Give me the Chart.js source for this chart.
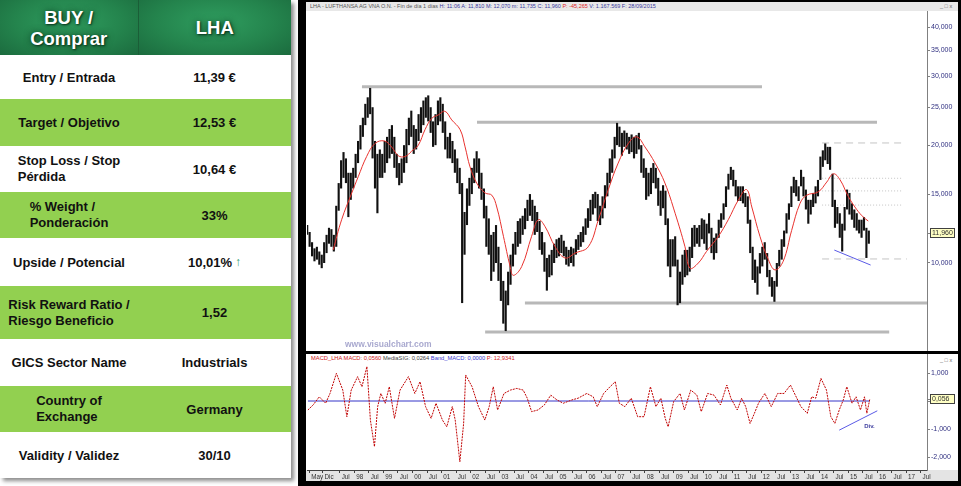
<!DOCTYPE html>
<html>
<head>
<meta charset="utf-8">
<script src="https://cdn.jsdelivr.net/npm/chart.js@4.4.1/dist/chart.umd.min.js"></script>
<style>
  body { margin:0; width:961px; height:486px; position:relative; overflow:hidden; background:#fff;
         font-family:"Liberation Sans", Arial, sans-serif; }
  #tbl { position:absolute; left:0; top:0; width:291px; box-shadow:3px 3px 4px rgba(0,0,0,.45); }
  .row { display:flex; font-weight:bold; font-size:13px; color:#111; background:#fff; }
  .row > div { display:flex; align-items:center; justify-content:center; text-align:center; }
  .k { width:138px; }
  .v { width:153px; }
  .k span { text-align:left; line-height:16px; }
  .g { background:#92d050; }
  .hd { height:55px; color:#fff; font-size:18.5px; line-height:21px;
        text-shadow:1px 1px 2px #08331b, 0 0 7px rgba(5,45,22,.85); }
  .hd > div { background:radial-gradient(ellipse at 50% 40%, #2f9d5f 0%, #24844d 55%, #1b6b3e 100%); }
  .hd .k { border-right:1px solid #1a5e37; }
  .up { color:#2e9b6e; font-weight:normal; font-size:12px; margin-left:3px; }
  .blk { position:absolute; background:#000; }
  .pane { position:absolute; background:#fff; }
  .tiny { position:absolute; white-space:nowrap; transform-origin:0 0; transform:scale(.5); }
  canvas { position:absolute; }
</style>
</head>
<body>
<div id="tbl">
  <div class="row hd"><div class="k">BUY /<br>Comprar</div><div class="v">LHA</div></div>
  <div class="row" style="height:44px"><div class="k">Entry / Entrada</div><div class="v">11,39 €</div></div>
  <div class="row g" style="height:47px"><div class="k">Target / Objetivo</div><div class="v">12,53 €</div></div>
  <div class="row" style="height:46px"><div class="k"><span>Stop Loss / Stop<br>Pérdida</span></div><div class="v">10,64 €</div></div>
  <div class="row g" style="height:46px"><div class="k"><span>% Weight /<br>Ponderación</span></div><div class="v">33%</div></div>
  <div class="row" style="height:48px"><div class="k">Upside / Potencial</div><div class="v">10,01%<span class="up">↑</span></div></div>
  <div class="row g" style="height:53px"><div class="k"><span>Risk Reward Ratio /<br>Riesgo Beneficio</span></div><div class="v">1,52</div></div>
  <div class="row" style="height:47px"><div class="k">GICS Sector Name</div><div class="v">Industrials</div></div>
  <div class="row g" style="height:46px"><div class="k"><span>Country of<br>Exchange</span></div><div class="v">Germany</div></div>
  <div class="row" style="height:46px"><div class="k">Validity / Validez</div><div class="v">30/10</div></div>
</div>

<div class="blk" style="left:298px;top:0;width:663px;height:486px"></div>
<div class="pane" style="left:306px;top:2px;width:652px;height:349px"></div>
<div class="pane" style="left:306px;top:354px;width:652px;height:127px"></div>
<div class="pane" style="left:306px;top:2px;width:652px;height:9px;background:#e8e8e8"></div>
<div class="tiny" style="left:310px;top:3px;font-size:11px;color:#555">LHA - LUFTHANSA AG VNA O.N. - Fin de día 1 días <span style="color:#3a3aa0">H: 11:06 A: 11,810 M: 12,070 m: 11,735 C: 11,960</span> <span style="color:#e02020">P: -45,265</span> <span style="color:#3a3aa0">V: 1.167.569 F: 28/09/2015</span></div>
<div class="tiny" style="left:940px;top:3px;font-size:11px;color:#666">_ □ x</div>
<div class="tiny" style="left:311px;top:355px;font-size:11.5px;color:#d02020">MACD_LHA MACD: 0,0560 <span style="color:#444">MediaSIG: 0,0264</span> <span style="color:#3a3ad0">Band_MACD: 0,0000</span> P: 12,9341</div>
<div class="tiny" style="left:940px;top:357px;font-size:11px;color:#666">_ □ x</div>

<canvas id="cp" width="652" height="340" style="left:306px;top:11px"></canvas>
<canvas id="cm" width="652" height="127" style="left:306px;top:354px"></canvas>

<script>
// monthly low / high, May 1996 .. Sep 2015
const lows = [
  11.8,11.0,10.4,10.1,10.2,9.9,9.7,10.0,
  10.6,11.2,11.0,10.7,11.0,13.6,15.5,16.5,16.0,13.1,14.5,15.5,
  16.5,18.0,19.5,21.0,22.5,23.5,24.0,18.5,15.5,13.4,16.5,16.5,
  17.0,18.0,18.5,19.0,17.5,16.5,15.8,16.0,17.0,18.0,20.0,21.0,
  19.0,19.5,20.5,21.5,22.5,23.5,23.0,21.5,19.8,20.0,22.5,23.0,
  21.5,19.5,18.5,18.5,18.0,17.0,16.0,15.0,7.9,10.5,12.5,14.0,
  15.0,16.0,17.0,15.5,14.5,13.0,11.0,10.5,9.0,9.5,10.0,9.0,
  8.0,7.0,6.7,7.8,8.8,9.8,10.5,11.0,11.2,11.8,12.2,12.8,
  13.2,12.8,11.8,12.0,10.8,10.5,9.5,8.5,9.2,9.3,10.0,10.3,
  10.4,10.6,10.4,9.9,9.8,10.0,9.8,10.5,10.8,11.0,11.3,11.8,
  12.3,12.8,13.3,13.8,12.8,12.5,13.0,13.8,14.8,16.0,17.0,18.5,
  20.0,19.8,18.8,19.8,19.5,19.0,19.2,18.5,19.0,19.5,17.0,16.5,
  14.5,14.8,15.0,16.0,15.5,14.0,13.2,13.8,12.5,9.8,9.2,9.8,
  9.8,7.8,7.9,8.8,9.2,9.3,9.5,10.3,11.0,11.2,11.0,11.5,
  11.2,10.8,11.9,10.6,10.2,10.6,11.6,12.3,12.9,13.9,15.4,16.3,
  15.7,14.8,14.4,14.4,14.2,13.9,12.6,10.6,9.05,8.9,8.3,9.4,
  9.8,10.2,9.2,8.7,8.2,7.96,8.7,9.8,10.2,11.0,11.9,12.9,
  13.9,15.1,14.8,14.4,15.7,14.8,13.7,12.6,13.3,13.9,14.2,14.8,
  16.3,17.6,18.3,17.9,17.3,13.9,12.3,12.6,11.6,10.7,12.1,13.7,
  13.3,12.9,12.3,12.1,11.9,11.6,12.1,10.3,11.2
];
const highs = [
  12.5,12.0,11.3,10.9,11.0,10.7,10.5,11.3,
  11.8,12.3,12.2,11.8,14.0,16.0,18.3,19.2,18.5,17.0,17.0,17.5,
  19.0,20.5,22.5,23.5,25.5,26.5,28.0,25.0,20.5,19.0,19.5,19.0,
  20.5,21.0,22.0,22.5,21.0,19.0,18.0,18.5,20.0,22.0,23.5,24.5,
  22.5,22.0,24.0,25.0,26.0,26.5,26.8,25.0,23.0,24.0,26.0,26.5,
  25.5,23.0,21.0,21.5,20.5,19.5,18.5,17.5,16.0,13.5,15.5,16.5,
  17.5,18.5,19.3,18.5,17.0,15.5,14.0,13.0,11.8,12.0,12.5,11.0,
  10.0,9.0,8.5,9.5,10.5,11.2,12.0,12.8,13.0,13.2,13.8,14.5,
  15.0,14.5,14.0,13.5,12.8,12.0,11.3,10.3,10.5,10.8,11.2,11.5,
  11.6,11.8,11.4,11.0,10.8,11.0,10.9,11.5,11.8,12.0,12.4,13.0,
  13.8,14.5,15.0,15.2,15.0,14.0,14.8,15.8,17.0,18.5,19.5,21.0,
  22.8,22.3,21.5,21.8,21.5,21.0,21.3,21.0,21.2,21.5,20.0,18.5,
  17.5,17.0,17.5,18.0,17.5,16.5,15.3,15.8,15.3,13.0,11.5,11.5,
  11.7,10.2,9.5,10.5,10.8,10.8,11.0,12.3,12.5,12.3,12.5,13.0,
  12.9,12.6,13.4,12.3,11.6,11.9,12.9,13.4,14.2,15.7,16.9,17.6,
  17.3,16.3,15.7,15.7,15.7,15.1,14.8,12.9,11.0,10.2,9.8,10.6,
  11.0,11.3,10.6,9.6,9.2,9.0,10.0,10.8,11.5,12.1,13.4,14.2,
  15.7,16.6,16.3,15.7,17.3,16.6,15.4,14.5,14.5,15.1,15.7,16.3,
  18.7,19.4,20.2,19.8,19.8,16.9,14.5,13.9,13.4,12.6,13.9,15.4,
  15.1,14.2,13.7,13.4,12.9,12.9,13.1,12.3,12.1
];
const lastClose = 11.96;

// red moving average
const maT = [1997.27,1997.56,1997.91,1998.13,1998.42,1998.71,1999.03,1999.28,1999.51,1999.74,1999.97,
  2000.20,2000.43,2000.66,2000.89,2001.12,2001.35,2001.64,2001.81,2001.98,2002.21,2002.50,2002.73,2002.90,
  2003.13,2003.36,2003.47,2003.76,2004.10,2004.33,2004.56,2004.91,2005.25,2005.60,2006.05,2006.40,2006.74,
  2007.08,2007.43,2007.72,2008.00,2008.35,2008.69,2009.04,2009.38,2009.55,2009.84,2010.12,2010.53,2010.87,
  2011.22,2011.50,2011.68,2011.96,2012.25,2012.48,2012.76,2013.05,2013.34,2013.57,2013.97,2014.26,2014.49,
  2014.72,2015.00,2015.29,2015.52,2015.69];
const maV = [10.8,12.9,15.1,16.6,18.7,20.2,20.5,19.8,18.8,18.7,19.3,
  20.0,21.9,23.4,23.9,24.4,23.2,21.9,19.8,17.6,16.0,15.1,14.9,13.9,
  11.7,9.8,9.3,9.8,11.7,12.9,12.4,11.0,10.3,10.6,11.0,12.9,15.4,
  18.0,20.2,21.0,19.8,18.0,16.0,13.4,11.0,9.7,10.0,10.7,11.7,12.9,
  14.5,15.4,13.9,11.7,10.2,9.6,10.1,12.1,14.2,14.9,15.2,16.1,16.9,
  16.3,14.8,13.7,13.1,12.8];

// support / resistance levels
const levelPrice = [28.2, 22.9, 7.90, 6.66];
const levelFrom  = [1998.26, 2002.22, 2003.87, 2002.50];
const levelTo    = [2012.03, 2015.99, 2017.71, 2016.41];
const targetPrice = [20.26, 16.46, 15.28, 14.06, 10.24];
const targetFrom  = 2014.10;
const targetTo    = [2016.95, 2016.88, 2016.88, 2016.88, 2017.02];
const trendT = [2014.52, 2015.77];
const trendP = [10.79, 9.88];

// MACD
const macdT = [1996.40,1996.58,1996.79,1997.01,1997.16,1997.38,1997.60,1997.74,1997.89,1998.11,1998.26,1998.43,
  1998.55,1998.69,1998.80,1998.91,1999.06,1999.20,1999.38,1999.57,1999.86,2000.08,2000.26,2000.45,2000.64,
  2000.81,2001.03,2001.18,2001.37,2001.47,2001.63,2001.76,2001.83,2002.05,2002.27,2002.49,2002.64,2002.78,
  2002.93,2003.15,2003.37,2003.59,2003.81,2003.95,2004.10,2004.32,2004.54,2004.76,2004.97,2005.19,2005.49,
  2005.70,2006.00,2006.22,2006.36,2006.58,2006.80,2006.98,2007.12,2007.31,2007.53,2007.75,2007.97,2008.19,
  2008.38,2008.55,2008.70,2008.80,2008.99,2009.21,2009.36,2009.58,2009.79,2009.94,2010.16,2010.38,2010.60,
  2010.82,2010.96,2011.18,2011.33,2011.47,2011.62,2011.77,2011.91,2012.13,2012.35,2012.57,2012.79,2013.01,
  2013.23,2013.37,2013.59,2013.74,2013.88,2014.06,2014.25,2014.40,2014.54,2014.69,2014.83,2014.95,2015.13,
  2015.27,2015.42,2015.56,2015.64,2015.74];
const macdV = [-0.32,-0.14,0.15,-0.08,0.27,0.99,0.39,-0.56,0.39,0.87,0.51,1.23,
  -0.68,-1.63,-0.2,0.27,-0.08,0.51,-0.62,0.39,0.87,0.27,0.69,-0.2,-0.62,
  -0.08,-0.68,-0.92,-0.2,-0.68,-2.17,-0.8,0.93,0.51,-0.2,-0.68,-0.2,0.51,
  -0.32,0.27,0.39,0.45,0.39,0.1,-0.38,-0.32,-0.14,0.21,0.04,-0.08,0.04,
  0.1,0.27,0.15,-0.2,0.27,0.51,0.69,-0.08,-0.2,0.1,-0.56,-0.56,0.51,
  -0.2,0.1,-0.62,-0.92,-0.02,0.27,-0.32,0.39,0.21,-0.38,0.27,0.21,-0.14,
  0.57,0.1,-0.32,0.1,-0.2,-0.8,-0.44,-0.08,0.27,-0.2,0.27,0.27,0.57,
  0.1,-0.2,-0.44,0.15,0.1,0.81,0.39,-0.56,-0.8,-0.32,0.04,0.51,-0.08,
  0.15,-0.32,0.15,-0.44,0.056];
const macdLast = 0.056;
const macdTrendT = [2014.69, 2016.0];
const macdTrendV = [-1.04, -0.35];

// axis ticks
const priceTicks = [10, 15, 20, 25, 30, 35, 40];
const macdTicks = [1, 0, -1, -2];
const xTickPos = [1996.45, 1996.91, 1997.5,
  1998, 1998.5, 1999, 1999.5, 2000, 2000.5, 2001, 2001.5, 2002, 2002.5, 2003, 2003.5,
  2004, 2004.5, 2005, 2005.5, 2006, 2006.5, 2007, 2007.5, 2008, 2008.5, 2009, 2009.5,
  2010, 2010.5, 2011, 2011.5, 2012, 2012.5, 2013, 2013.5, 2014, 2014.5, 2015, 2015.5,
  2016, 2016.5, 2017, 2017.5];
const xTickLabels = ["May", "Dic", "Jul",
  "98", "Jul", "99", "Jul", "00", "Jul", "01", "Jul", "02", "Jul", "03", "Jul",
  "04", "Jul", "05", "Jul", "06", "Jul", "07", "Jul", "08", "Jul", "09", "Jul",
  "10", "Jul", "11", "Jul", "12", "Jul", "13", "Jul", "14", "Jul", "15", "Jul",
  "16", "Jul", "17", "Jul"];

const xMin = 1996.368, xMax = 2017.711;
const FONT = '"Liberation Sans", Arial, sans-serif';

function fmt3(v) { return v.toFixed(3).replace('.', ','); }

// month centre as a fractional year
const bars = lows.map((lo, i) => ({ x: 1996 + (4 + i + 0.5) / 12, y: [lo, highs[i]] }));

function seg(x0, x1, y0, y1) { return [{ x: x0, y: y0 }, { x: x1, y: y1 }]; }
function flat(data, color, width, dash) {
  return { type: 'line', data: data, borderColor: color, borderWidth: width, borderDash: dash || [],
           pointRadius: 0, fill: false, tension: 0 };
}

function valueBox(ctx, x, y, txt) {
  ctx.strokeStyle = '#808080';
  ctx.lineWidth = 1;
  ctx.beginPath(); ctx.moveTo(x, Math.round(y) + 0.5); ctx.lineTo(x + 3, Math.round(y) + 0.5); ctx.stroke();
  const top = Math.round(y) - 4.5;
  ctx.fillStyle = '#ffffc4';
  ctx.fillRect(x + 3.5, top, 24, 9);
  ctx.strokeStyle = '#404040';
  ctx.strokeRect(x + 3.5, top, 24, 9);
  ctx.fillStyle = '#303030';
  ctx.font = '7px ' + FONT;
  ctx.textAlign = 'left';
  ctx.textBaseline = 'middle';
  ctx.fillText(txt, x + 5, Math.round(y) + 0.5);
}

const priceOverlay = {
  id: 'priceOverlay',
  afterDraw(chart) {
    const ctx = chart.ctx, a = chart.chartArea, y = chart.scales.y;
    ctx.save();
    ctx.font = 'bold 8.5px ' + FONT;
    ctx.fillStyle = '#a9a9cf';
    ctx.textBaseline = 'middle';
    ctx.fillText('www.visualchart.com', 39, 334);
    valueBox(ctx, a.right, y.getPixelForValue(lastClose), fmt3(lastClose));
    ctx.restore();
  }
};

const macdOverlay = {
  id: 'macdOverlay',
  beforeDraw(chart) {
    const ctx = chart.ctx, a = chart.chartArea;
    ctx.save();
    ctx.fillStyle = '#e4e4e4';
    ctx.fillRect(0, a.bottom, chart.width, chart.height - a.bottom);
    ctx.restore();
  },
  afterDraw(chart) {
    const ctx = chart.ctx, a = chart.chartArea, y = chart.scales.y, x = chart.scales.x;
    ctx.save();
    valueBox(ctx, a.right, y.getPixelForValue(macdLast), fmt3(macdLast));
    ctx.font = 'bold 6px ' + FONT;
    ctx.fillStyle = '#4040a0';
    ctx.textBaseline = 'middle';
    ctx.fillText('Div.', x.getPixelForValue(2015.55), y.getPixelForValue(-0.9));
    ctx.restore();
  }
};

window.addEventListener('load', function () {
  const priceSets = [
    { type: 'line', data: maT.map((t, i) => ({ x: t, y: maV[i] })), borderColor: '#e8322e', borderWidth: 1,
      pointRadius: 0, fill: false, tension: 0.4 },
    flat(seg(trendT[0], trendT[1], trendP[0], trendP[1]), '#5a5ae6', 1),
    { type: 'bar', data: bars, backgroundColor: '#111', barPercentage: 0.88, categoryPercentage: 1, borderWidth: 0 }
  ];
  levelPrice.forEach((p, i) => priceSets.push(flat(seg(levelFrom[i], levelTo[i], p, p), '#b8b8b8', 3)));
  targetPrice.forEach((p, i) => {
    const dash = (i === 0 || i === targetPrice.length - 1) ? [7, 5] : [1, 2];
    priceSets.push(flat(seg(targetFrom, targetTo[i], p, p), '#c4c4c4', 1, dash));
  });

  new Chart(document.getElementById('cp'), {
    type: 'bar',
    data: { datasets: priceSets },
    options: {
      responsive: false, animation: false,
      layout: { padding: { left: 1, right: 0, top: 0, bottom: 0 } },
      plugins: { legend: { display: false }, tooltip: { enabled: false } },
      scales: {
        x: { type: 'linear', min: xMin, max: xMax, display: false, offset: false },
        y: {
          type: 'logarithmic', position: 'right', min: 5.959, max: 44.03,
          afterBuildTicks: s => { s.ticks = priceTicks.map(v => ({ value: v })); },
          afterFit: s => { s.width = 31; s.paddingTop = 0; s.paddingBottom = 0; },
          ticks: { callback: v => fmt3(v), font: { size: 7, family: FONT }, color: '#303080', padding: 1, autoSkip: false },
          grid: { drawOnChartArea: false, tickLength: 3, color: '#808080' },
          border: { color: '#808080' }
        }
      }
    },
    plugins: [priceOverlay]
  });

  new Chart(document.getElementById('cm'), {
    type: 'line',
    data: { datasets: [
      { data: macdT.map((t, i) => ({ x: t, y: macdV[i] })), borderColor: '#c00000', borderWidth: 1,
        borderDash: [2, 1], pointRadius: 0, fill: false, tension: 0 },
      flat(seg(macdT[0], macdT[macdT.length - 1], 0, 0), '#3434c8', 1),
      flat(seg(macdTrendT[0], macdTrendT[1], macdTrendV[0], macdTrendV[1]), '#5a5ae6', 1)
    ] },
    options: {
      responsive: false, animation: false,
      layout: { padding: { left: 1, right: 0, top: 0, bottom: 0 } },
      plugins: { legend: { display: false }, tooltip: { enabled: false } },
      scales: {
        x: {
          type: 'linear', min: xMin, max: xMax, offset: false,
          afterBuildTicks: s => { s.ticks = xTickPos.map(v => ({ value: v })); },
          afterFit: s => { s.height = 11; s.paddingLeft = 0; s.paddingRight = 0; },
          ticks: { callback: (v, i) => ' ' + xTickLabels[i], font: { size: 6.3, family: FONT }, color: '#303030',
                   padding: 0, autoSkip: false, maxRotation: 0, minRotation: 0, align: 'start' },
          grid: { drawOnChartArea: false, tickLength: 3, color: '#404040' },
          border: { color: '#404040' }
        },
        y: {
          type: 'linear', position: 'right', min: -2.464, max: 1.679,
          afterBuildTicks: s => { s.ticks = macdTicks.map(v => ({ value: v })); },
          afterFit: s => { s.width = 31; s.paddingTop = 0; s.paddingBottom = 0; },
          ticks: { callback: v => v === 0 ? '' : fmt3(v), font: { size: 7, family: FONT }, color: '#303080', padding: 1, autoSkip: false },
          grid: { drawOnChartArea: false, tickLength: 3, color: '#808080' },
          border: { color: '#808080' }
        }
      }
    },
    plugins: [macdOverlay]
  });
});
</script>
</body>
</html>
